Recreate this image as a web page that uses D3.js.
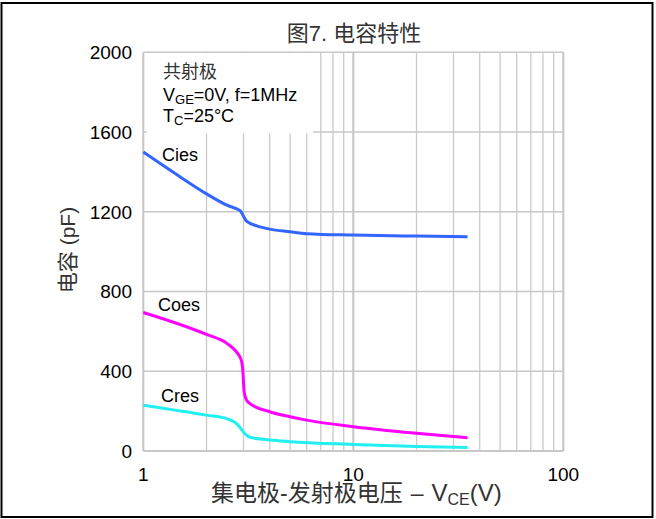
<!DOCTYPE html>
<html>
<head>
<meta charset="utf-8">
<script src="https://cdn.jsdelivr.net/npm/d3@7"></script>
<style>
	body { margin: 0; background: #fff; }
	svg { display: block; font-family: 'Liberation Sans', Arial, 'Noto Sans CJK SC', sans-serif; }
	.cjk { font-family: 'Liberation Sans', 'Noto Sans CJK SC', sans-serif; fill: #333; }
</style>
</head>
<body>
<div id="chart"></div>
<script>
'use strict';

// Data
var yTicks = [0, 400, 800, 1200, 1600, 2000];
var xTicks = [1, 10, 100];

var ciesV = [1, 1.5, 2, 2.5, 2.9, 3.0, 3.1, 3.5, 4, 5, 6, 10, 20, 35];
var ciesC = [1500, 1375, 1290, 1233, 1204, 1178, 1153, 1128, 1113, 1100, 1090, 1083, 1078, 1075];

var coesV = [1, 2, 2.5, 2.8, 2.93, 2.98, 3.02, 3.08, 3.2, 4, 5, 6, 10, 20, 35];
var coesC = [695, 585, 540, 492, 455, 400, 300, 262, 240, 197, 172, 155, 122, 89, 67];

var cresV = [1, 2, 2.5, 2.8, 3.0, 3.2, 4, 5, 10, 20, 35];
var cresC = [230, 180, 162, 135, 95, 70, 55, 47, 33, 22, 17];

var seriesNames = ['Cies', 'Coes', 'Cres'];
var seriesColors = ['#3366ff', '#ff00ff', '#22f0f0'];

(function drawChart() {
	var svg = d3.select('#chart').append('svg')
		.attr('width', 656)
		.attr('height', 519);

	// Dimensions
	var plot = {left: 143.3, right: 563.3, top: 52.3, bottom: 451};

	var x = d3.scaleLog().domain([1, 100]).range([plot.left, plot.right]);
	var y = d3.scaleLinear().domain([0, 2000]).range([plot.bottom, plot.top]);

	// Outer frame
	svg.append('rect')
		.attr('x', 1.5).attr('y', 3)
		.attr('width', 651).attr('height', 514)
		.attr('fill', 'none')
		.attr('stroke', '#000')
		.attr('stroke-width', 2);

	// Grid
	var grid = svg.append('g').attr('class', 'grid');
	var minor = [];
	[1, 10].forEach(function(dec) {
		for (var i = 2; i <= 9; i++) minor.push(i * dec);
	});

	grid.selectAll('.vminor')
		.data(minor)
		.enter().append('line')
			.attr('x1', function(d) { return x(d); })
			.attr('x2', function(d) { return x(d); })
			.attr('y1', plot.top).attr('y2', plot.bottom)
			.attr('stroke', '#cacaca')
			.attr('stroke-width', 1.3);

	grid.selectAll('.vmajor')
		.data(xTicks)
		.enter().append('line')
			.attr('x1', function(d) { return x(d); })
			.attr('x2', function(d) { return x(d); })
			.attr('y1', plot.top).attr('y2', plot.bottom)
			.attr('stroke', '#c4c4c4')
			.attr('stroke-width', 2);

	grid.selectAll('.hline')
		.data(yTicks)
		.enter().append('line')
			.attr('x1', plot.left).attr('x2', plot.right)
			.attr('y1', function(d) { return y(d); })
			.attr('y2', function(d) { return y(d); })
			.attr('stroke', '#c8c8c8')
			.attr('stroke-width', function(d) { return d === 0 ? 2 : 1.5; });

	// Legend box covering the grid
	svg.append('rect')
		.attr('x', 147).attr('y', plot.top + 1)
		.attr('width', 166).attr('height', 80)
		.attr('fill', '#fff');

	// Curves
	var line = d3.line()
		.x(function(d) { return x(d[0]); })
		.y(function(d) { return y(d[1]); })
		.curve(d3.curveMonotoneX);

	var series = [
		d3.zip(ciesV, ciesC),
		d3.zip(coesV, coesC),
		d3.zip(cresV, cresC)
	];

	svg.selectAll('.curve')
		.data(series)
		.enter().append('path')
			.attr('class', 'curve')
			.attr('d', line)
			.attr('fill', 'none')
			.attr('stroke', function(d, i) { return seriesColors[i]; })
			.attr('stroke-width', 3);

	// Curve labels
	var labelPos = [[162, 161], [158, 311], [161, 402]];
	svg.selectAll('.clabel')
		.data(seriesNames)
		.enter().append('text')
			.attr('x', function(d, i) { return labelPos[i][0]; })
			.attr('y', function(d, i) { return labelPos[i][1]; })
			.attr('font-size', 18)
			.text(function(d) { return d; });

	// Y tick labels
	svg.selectAll('.ytick')
		.data(yTicks)
		.enter().append('text')
			.attr('x', 132)
			.attr('y', function(d) { return y(d); })
			.attr('dy', '0.36em')
			.attr('text-anchor', 'end')
			.attr('font-size', 19)
			.text(function(d) { return d; });

	// X tick labels
	svg.selectAll('.xtick')
		.data(xTicks)
		.enter().append('text')
			.attr('x', function(d) { return x(d); })
			.attr('y', 481)
			.attr('text-anchor', 'middle')
			.attr('font-size', 19)
			.text(function(d) { return d; });

	// Title
	svg.append('text')
		.attr('class', 'cjk')
		.attr('x', 354)
		.attr('y', 41)
		.attr('text-anchor', 'middle')
		.attr('font-size', 22)
		.text('图7. 电容特性');

	// Y axis title
	svg.append('text')
		.attr('class', 'cjk')
		.attr('transform', 'translate(75,250) rotate(-90)')
		.attr('text-anchor', 'middle')
		.attr('font-size', 21)
		.text('电容 (pF)');

	// X axis title
	var xt = svg.append('text')
		.attr('class', 'cjk')
		.attr('x', 211)
		.attr('y', 501)
		.attr('font-size', 23);
	xt.append('tspan').text('集电极-发射极电压');
	xt.append('tspan').attr('dx', 8).text('\u2013');
	xt.append('tspan').attr('dx', 8).attr('font-size', 24).text('V');
	xt.append('tspan').attr('font-size', 16).attr('dy', 4).text('CE');
	xt.append('tspan').attr('font-size', 24).attr('dy', -4).text('(V)');

	// Conditions
	var cond = svg.append('g').attr('font-size', 18);
	cond.append('text').attr('class', 'cjk').attr('x', 163).attr('y', 78).text('共射极');
	var c2 = cond.append('text').attr('x', 163).attr('y', 101);
	c2.append('tspan').text('V');
	c2.append('tspan').attr('font-size', 13).attr('dy', 3).text('GE');
	c2.append('tspan').attr('dy', -3).text('=0V, f=1MHz');
	var c3 = cond.append('text').attr('x', 163).attr('y', 122);
	c3.append('tspan').text('T');
	c3.append('tspan').attr('font-size', 13).attr('dy', 3).text('C');
	c3.append('tspan').attr('dy', -3).text('=25°C');
})();
</script>
</body>
</html>
